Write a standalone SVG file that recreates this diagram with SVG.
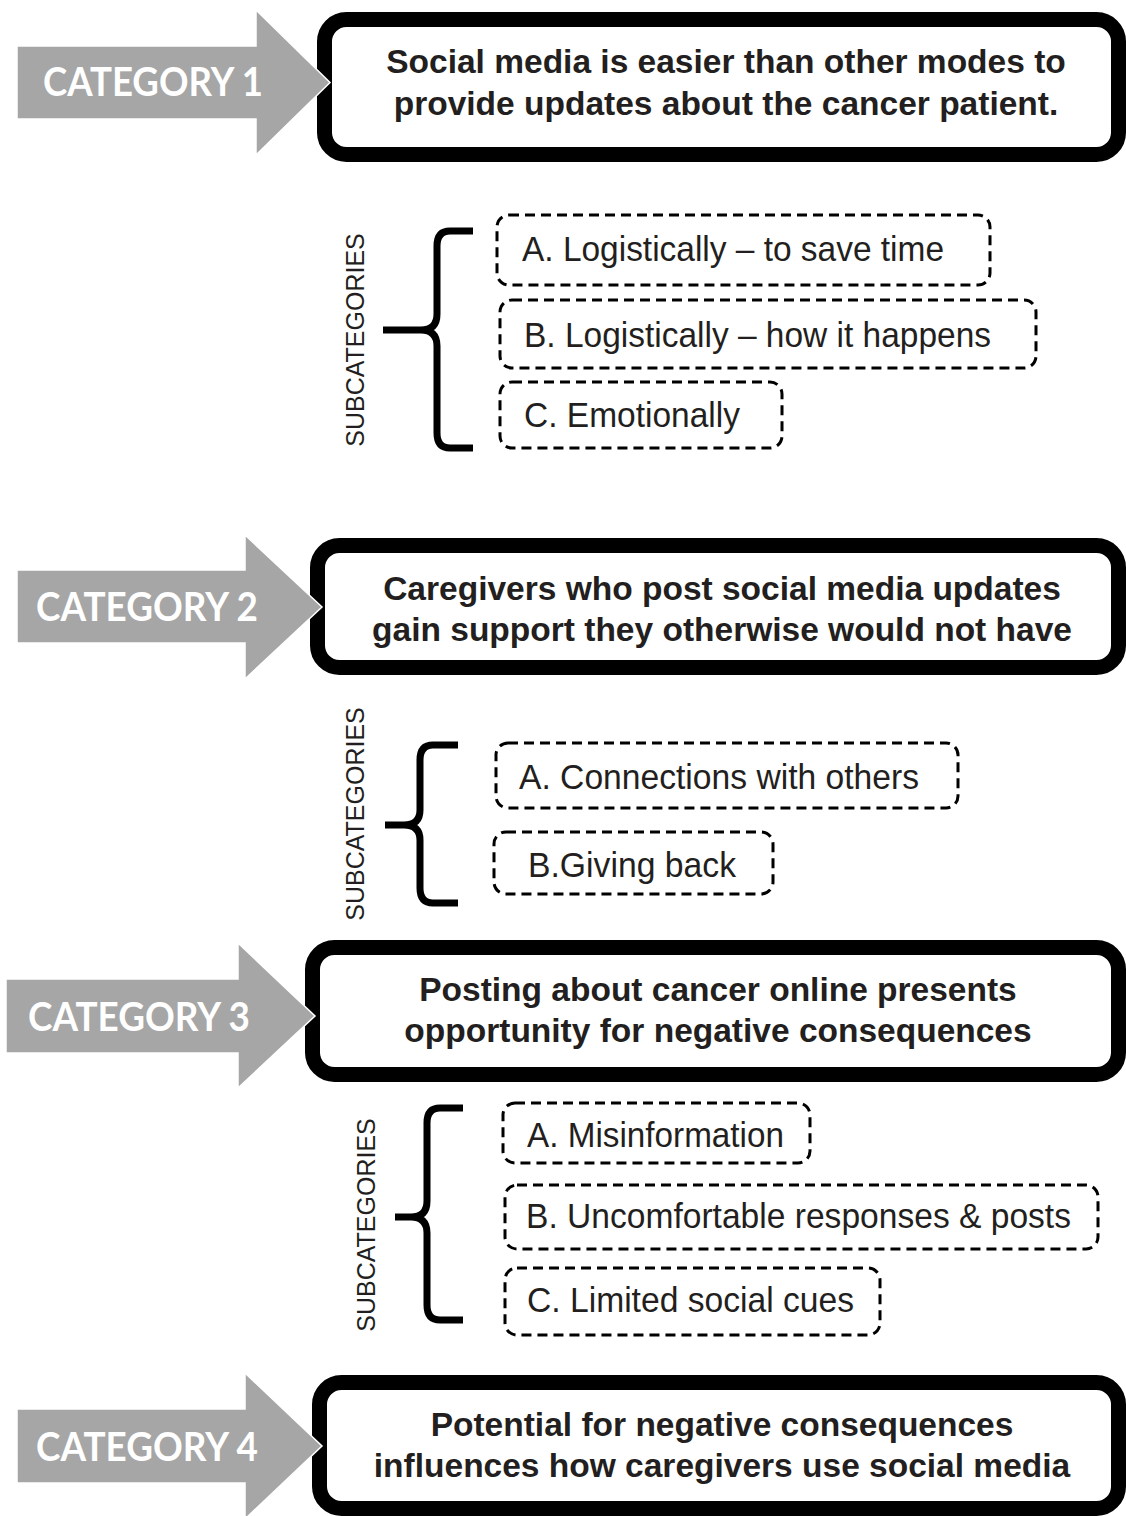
<svg xmlns="http://www.w3.org/2000/svg" width="1126" height="1516" viewBox="0 0 1126 1516">
<style>
.main{fill:#fff;stroke:#000;stroke-width:15}
.arrow{fill:#a6a6a6;stroke:#fff;stroke-width:1.5;stroke-linejoin:miter}
.cat{font-family:Lato,"Open Sans",sans-serif;font-weight:700;font-size:40px;fill:#fff}
.btxt{font-family:"Liberation Sans",Arial,sans-serif;font-weight:700;font-size:33.5px;fill:#231f20;text-anchor:middle}
.sub{fill:#fff;stroke:#000;stroke-width:3;stroke-dasharray:10 6}
.stxt{font-family:"Liberation Sans",Arial,sans-serif;font-size:35px;fill:#231f20}
.lbl{font-family:"Liberation Sans",Arial,sans-serif;font-size:25px;fill:#231f20;text-anchor:middle}
.brace{fill:none;stroke:#000;stroke-width:7;stroke-linejoin:round}
</style>

<g id="box1"><rect class="main" x="324.5" y="19.5" width="794" height="135" rx="22"/>
<text class="btxt" x="726" y="73">Social media is easier than other modes to</text>
<text class="btxt" x="726" y="115">provide updates about the cancer patient.</text></g>
<g id="cat1"><path class="arrow" d="M17,46 H256 V10 L330,82.5 L256,155 V119 H17 Z"/>
<text class="cat" x="43" y="96" textLength="220" lengthAdjust="spacingAndGlyphs">CATEGORY 1</text></g>

<g id="sub1">
<text class="lbl" transform="translate(364,340) rotate(-90)">SUBCATEGORIES</text>
<path class="brace" d="M473,231 H450 Q437,231 437,246 V314 Q437,330 421,330 H383 M421,330 Q437,330 437,346 V433 Q437,448 450,448 H473"/>
</g>
<g id="sub1a"><rect class="sub" x="497" y="215" width="493" height="70" rx="12"/><text class="stxt" x="522" y="261" textLength="422" lengthAdjust="spacingAndGlyphs">A. Logistically – to save time</text></g>
<g id="sub1b"><rect class="sub" x="500" y="300" width="536" height="68" rx="12"/><text class="stxt" x="524" y="347" textLength="467" lengthAdjust="spacingAndGlyphs">B. Logistically – how it happens</text></g>
<g id="sub1c"><rect class="sub" x="500" y="382" width="282" height="66" rx="12"/><text class="stxt" x="524" y="427" textLength="216" lengthAdjust="spacingAndGlyphs">C. Emotionally</text></g>

<g id="box2"><rect class="main" x="317.5" y="545.5" width="801" height="122" rx="22"/>
<text class="btxt" x="722" y="600">Caregivers who post social media updates</text>
<text class="btxt" x="722" y="641">gain support they otherwise would not have</text></g>
<g id="cat2"><path class="arrow" d="M17,570 H245 V535 L322,607 L245,679 V643 H17 Z"/>
<text class="cat" x="36" y="621" textLength="222" lengthAdjust="spacingAndGlyphs">CATEGORY 2</text></g>

<g id="sub2">
<text class="lbl" transform="translate(364,814) rotate(-90)">SUBCATEGORIES</text>
<path class="brace" d="M458,745 H433 Q420,745 420,760 V810 Q420,825 404,825 H385 M404,825 Q420,825 420,840 V888 Q420,903 433,903 H458"/>
</g>
<g id="sub2a"><rect class="sub" x="496" y="743" width="462" height="65" rx="12"/><text class="stxt" x="519" y="789" textLength="400" lengthAdjust="spacingAndGlyphs">A. Connections with others</text></g>
<g id="sub2b"><rect class="sub" x="494" y="832" width="279" height="62" rx="12"/><text class="stxt" x="528" y="877" textLength="208" lengthAdjust="spacingAndGlyphs">B.Giving back</text></g>

<g id="box3"><rect class="main" x="312.5" y="947.5" width="806" height="127" rx="22"/>
<text class="btxt" x="718" y="1001">Posting about cancer online presents</text>
<text class="btxt" x="718" y="1042">opportunity for negative consequences</text></g>
<g id="cat3"><path class="arrow" d="M6,979 H238 V943 L315,1016 L238,1088 V1053 H6 Z"/>
<text class="cat" x="28" y="1031" textLength="222" lengthAdjust="spacingAndGlyphs">CATEGORY 3</text></g>

<g id="sub3">
<text class="lbl" transform="translate(375,1225) rotate(-90)">SUBCATEGORIES</text>
<path class="brace" d="M463,1108 H440 Q427,1108 427,1123 V1201 Q427,1217 411,1217 H395 M411,1217 Q427,1217 427,1233 V1305 Q427,1320 440,1320 H463"/>
</g>
<g id="sub3a"><rect class="sub" x="503" y="1103" width="307" height="60" rx="12"/><text class="stxt" x="527" y="1147" textLength="257" lengthAdjust="spacingAndGlyphs">A. Misinformation</text></g>
<g id="sub3b"><rect class="sub" x="505" y="1185" width="593" height="64" rx="12"/><text class="stxt" x="526" y="1228" textLength="545" lengthAdjust="spacingAndGlyphs">B. Uncomfortable responses &amp; posts</text></g>
<g id="sub3c"><rect class="sub" x="505" y="1268" width="375" height="67" rx="12"/><text class="stxt" x="527" y="1312" textLength="327" lengthAdjust="spacingAndGlyphs">C. Limited social cues</text></g>

<g id="box4"><rect class="main" x="319.5" y="1382.5" width="799" height="126" rx="22"/>
<text class="btxt" x="722" y="1436">Potential for negative consequences</text>
<text class="btxt" x="722" y="1477">influences how caregivers use social media</text></g>
<g id="cat4"><path class="arrow" d="M17,1409 H245 V1373 L322,1446 L245,1519 V1483 H17 Z"/>
<text class="cat" x="36" y="1461" textLength="222" lengthAdjust="spacingAndGlyphs">CATEGORY 4</text></g>

<g id="connectors"></g>
</svg>
